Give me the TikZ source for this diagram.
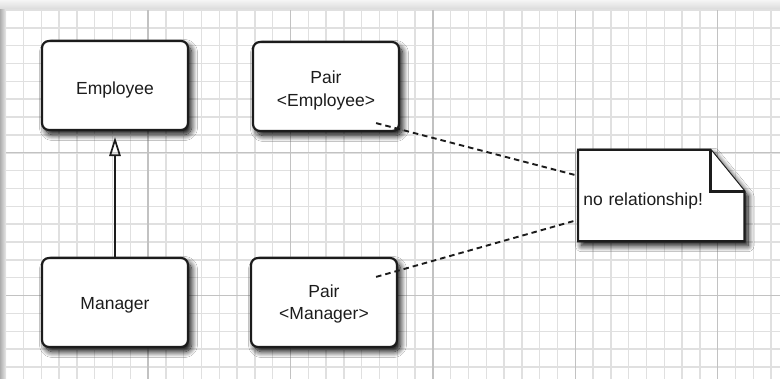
\documentclass[tikz,border=0pt]{standalone}
\usepackage{fontspec}
\setmainfont{Liberation Sans}
\usetikzlibrary{arrows.meta,shadows.blur,calc}
\definecolor{minorgrid}{HTML}{E0E0E0}
\definecolor{majorgrid}{HTML}{C2C2C2}
\definecolor{ink}{HTML}{1C1C1C}
\begin{document}
\begin{tikzpicture}[x=1pt,y=-1pt,
  softshadow/.style={blur shadow={shadow xshift=3.5pt, shadow yshift=-4.5pt, shadow blur radius=6pt, shadow blur steps=12, shadow opacity=100}},
  labeltext/.style={font=\fontsize{17.5}{22.5}\selectfont, text=ink, align=center},
  box/.style={draw=ink, line width=2.2pt, fill=white, rounded corners=7pt,
    minimum width=146pt, minimum height=89pt, softshadow},
  notebox/.style={labeltext, minimum width=166pt, minimum height=91pt, text width=156pt,
    inner xsep=5pt, inner ysep=0pt, align=left},
  noteline/.style={draw=ink, line width=2.2pt, fill=white, line join=miter},
  dashline/.style={draw=ink, line width=1.9pt, dash pattern=on 5.5pt off 4pt},
  inherit/.style={draw=ink, line width=1.7pt, -{Triangle[open, length=19pt, width=11.5pt, line width=1.7pt]}}
]
\useasboundingbox (0,0) rectangle (780,379);
% background
\fill[white] (0,0) rectangle (780,379);
\shade[top color=black!4, bottom color=black!15] (0,0) rectangle (780,10);
\shade[left color=black!32, right color=black!8] (0,10) rectangle (6,379);
% grid
\foreach \k in {0,...,43} {
  \draw[minorgrid, line width=1.5pt] ({5.7+17.8*\k},10) -- ({5.7+17.8*\k},379);
}
\foreach \j in {0,...,20} {
  \draw[minorgrid, line width=1.5pt] (6,{10+17.85*\j}) -- (780,{10+17.85*\j});
}
\foreach \k in {8,16,24,32,40} {
  \draw[majorgrid, line width=1.4pt] ({5.7+17.8*\k},10) -- ({5.7+17.8*\k},379);
}
\foreach \j in {8,16} {
  \draw[majorgrid, line width=1.4pt] (6,{10+17.85*\j}) -- (780,{10+17.85*\j});
}
% boxes
\node[box] (emp) at (115,85.5) {};
\node[labeltext] (empt) at ([yshift=-4pt]emp.center) {Employee};
\node[box] (pe) at (326,86.5) {};
\node[labeltext] (pet) at ([yshift=-4pt]pe.center) {Pair\\<Employee>};
\node[box] (mgr) at (115,302.5) {};
\node[labeltext] (mgrt) at ([yshift=-3pt]mgr.center) {Manager};
\node[box] (pm) at (324,302.5) {};
\node[labeltext] (pmt) at ([yshift=-1.5pt]pm.center) {Pair\\<Manager>};
% note
\node[notebox] (note) at (661.3,195.5) {};
\draw[noteline, softshadow] (note.north west) -- ([xshift=-34pt]note.north east)
  -- ([yshift=-41.7pt]note.north east) -- (note.south east) -- (note.south west) -- cycle;
\draw[noteline] ([xshift=-34pt]note.north east) -- ([xshift=-34pt,yshift=-41.7pt]note.north east)
  -- ([yshift=-41.7pt]note.north east);
\node[notebox] (notetext) at ([yshift=-5pt]note.center) {no relationship!};
% connectors
\draw[inherit] (mgr.north) -- ([yshift=-6pt]emp.south);
\coordinate (pes) at ($(pe.south east)+(-24,-9)$);
\coordinate (pmn) at ($(pm.north east)+(-22,20)$);
\coordinate (n1) at ($(note.north west)+(0,26)$);
\coordinate (n2) at ($(note.north west)+(0,70)$);
\draw[dashline] (pes) -- (n1);
\draw[dashline] (pmn) -- (n2);
\end{tikzpicture}
\end{document}
